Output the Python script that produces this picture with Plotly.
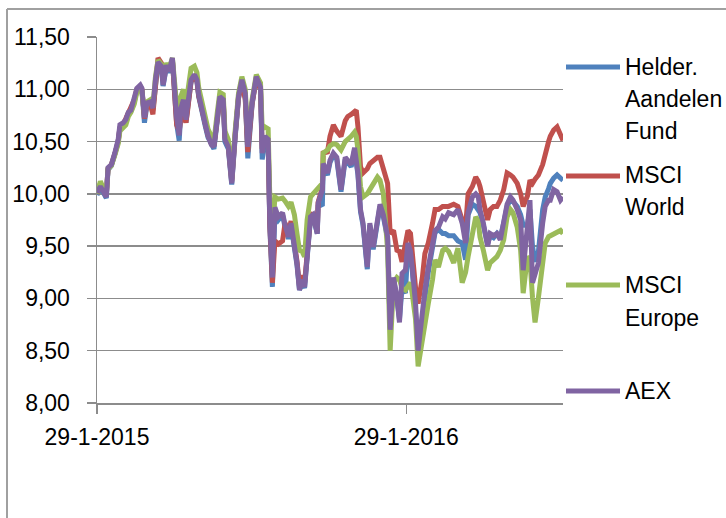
import pandas as pd
import plotly.graph_objects as go

# ---------------- data ----------------
start_date = "2015-01-29"
# days since start for every sampled point
day_offset = [
    0, 4, 7, 11, 13, 17, 21, 25, 27, 31,
    34, 37, 40, 44, 47, 51, 53, 56, 59, 63,
    66, 69, 72, 76, 78, 82, 85, 89, 92, 94,
    97, 99, 102, 105, 107, 111, 115, 118, 120, 124,
    128, 131, 135, 138, 142, 145, 149, 151, 155, 159,
    163, 167, 171, 175, 178, 183, 188, 193, 195, 198,
    202, 204, 207, 210, 214, 219, 222, 226, 229, 233,
    236, 239, 242, 245, 248, 252, 255, 260, 261, 266,
    267, 272, 275, 279, 283, 288, 293, 296, 300, 304,
    306, 308, 311, 314, 319, 322, 326, 331, 334, 338,
    343, 346, 350, 354, 357, 360, 364, 367, 370, 372,
    376, 379, 384, 387, 391, 396, 399, 403, 408, 411,
    415, 421, 426, 431, 435, 438, 443, 447, 450, 452,
    456, 461, 464, 468, 472, 476, 480, 484, 488, 491,
    496, 500, 503, 508, 511, 514, 517, 521, 526, 529,
    533, 535, 539, 543, 547, 550,
]

helder_fund = [
    9.99, 10.06, 10.02, 9.96, 10.23, 10.27, 10.38, 10.50, 10.63, 10.66,
    10.70, 10.77, 10.79, 10.88, 10.99, 11.02, 10.99, 10.68, 10.85, 10.86,
    10.80, 11.08, 11.25, 11.21, 11.03, 11.22, 11.16, 11.28, 10.86, 10.67,
    10.51, 10.78, 10.88, 10.68, 10.82, 11.07, 11.12, 11.07, 10.93, 10.76,
    10.64, 10.54, 10.46, 10.43, 10.70, 10.90, 10.88, 10.50, 10.43, 10.09,
    10.53, 10.91, 11.08, 10.92, 10.34, 10.85, 11.11, 11.00, 10.33, 10.50,
    10.48, 9.68, 9.11, 9.82, 9.75, 9.80, 9.68, 9.57, 9.70, 9.51,
    9.32, 9.08, 9.16, 9.10, 9.44, 9.76, 9.78, 9.62, 9.88, 9.90,
    10.25, 10.18, 10.30, 10.37, 10.33, 10.02, 10.33, 10.30, 10.26, 10.42,
    10.33, 10.18, 9.83, 9.70, 9.28, 9.70, 9.47, 9.73, 9.88, 9.78,
    9.57, 8.72, 9.18, 9.00, 8.80, 9.10, 9.05, 9.50, 9.42, 9.28,
    8.90, 8.55, 8.62, 9.00, 9.25, 9.45, 9.63, 9.66, 9.62, 9.62,
    9.60, 9.60, 9.55, 9.53, 9.37, 9.80, 9.90, 9.88, 9.85, 9.82,
    9.70, 9.52, 9.60, 9.58, 9.62, 9.58, 9.72, 9.88, 9.95, 9.93,
    9.88, 9.80, 9.70, 9.70, 9.85, 9.50, 9.35, 9.45, 9.85, 9.97,
    10.05, 10.10, 10.15, 10.18, 10.15, 10.13,
]

msci_world = [
    10.00, 10.10, 10.05, 9.99, 10.24, 10.28, 10.38, 10.50, 10.63, 10.67,
    10.72, 10.78, 10.82, 10.90, 11.00, 11.03, 11.00, 10.72, 10.86, 10.85,
    10.76, 11.10, 11.30, 11.25, 11.08, 11.24, 11.18, 11.28, 10.85, 10.66,
    10.60, 10.72, 10.80, 10.68, 10.80, 11.08, 11.12, 11.08, 10.94, 10.78,
    10.66, 10.56, 10.48, 10.46, 10.72, 10.92, 10.90, 10.54, 10.46, 10.12,
    10.56, 10.92, 11.07, 10.90, 10.40, 10.86, 11.10, 11.00, 10.43, 10.55,
    10.50, 9.70, 9.15, 9.55, 9.52, 9.55, 9.72, 9.62, 9.74, 9.55,
    9.36, 9.12, 9.22, 9.15, 9.48, 9.78, 9.82, 9.64, 9.92, 10.06,
    10.39, 10.40, 10.55, 10.66, 10.60, 10.55, 10.70, 10.74, 10.76, 10.78,
    10.80, 10.64, 10.26, 10.20, 10.24, 10.29, 10.32, 10.35, 10.35, 10.23,
    10.10, 9.62, 9.65, 9.46, 9.45, 9.35, 9.55, 9.65, 9.62, 9.40,
    9.10, 8.95, 9.20, 9.43, 9.53, 9.72, 9.85, 9.85, 9.88, 9.88,
    9.88, 9.90, 9.88, 9.75, 9.68, 10.00, 10.07, 10.16, 10.12, 10.07,
    9.90, 9.75, 9.85, 9.88, 9.88, 9.94, 10.04, 10.20, 10.18, 10.16,
    10.10, 10.00, 9.88, 9.98, 10.13, 10.10, 10.14, 10.18, 10.28, 10.40,
    10.50, 10.55, 10.61, 10.64, 10.58, 10.51,
]

msci_europe = [
    10.00, 10.12, 10.06, 10.00, 10.24, 10.27, 10.37, 10.48, 10.60, 10.63,
    10.66, 10.74, 10.78, 10.86, 10.97, 11.00, 10.98, 10.76, 10.88, 10.90,
    10.84, 11.12, 11.28, 11.24, 11.10, 11.25, 11.20, 11.30, 10.98, 10.85,
    10.72, 10.93, 11.00, 10.82, 10.97, 11.20, 11.22, 11.16, 11.02, 10.86,
    10.72, 10.62, 10.55, 10.50, 10.78, 10.97, 10.95, 10.60, 10.52, 10.15,
    10.60, 10.96, 11.12, 11.00, 10.52, 10.90, 11.14, 11.06, 10.62, 10.64,
    10.62, 9.95, 9.60, 9.97, 9.95, 9.96, 9.93, 9.88, 9.92, 9.80,
    9.62, 9.46, 9.45, 9.40, 9.75, 9.97, 10.00, 10.04, 10.06, 10.10,
    10.39, 10.42, 10.46, 10.48, 10.47, 10.42, 10.50, 10.52, 10.55, 10.59,
    10.55, 10.42, 10.07, 9.97, 10.00, 10.04, 10.10, 10.16, 10.13, 10.00,
    9.46, 8.50, 9.15, 9.20, 9.18, 9.10, 9.08, 9.12, 9.15, 9.05,
    8.80, 8.35, 8.63, 8.80, 8.95, 9.18, 9.37, 9.30, 9.46, 9.48,
    9.45, 9.34, 9.48, 9.15, 9.25, 9.40, 9.62, 9.78, 9.74, 9.59,
    9.46, 9.27, 9.34, 9.37, 9.40, 9.46, 9.56, 9.78, 9.85, 9.82,
    9.68, 9.46, 9.05, 9.40, 9.37, 9.01, 8.77, 9.01, 9.40, 9.53,
    9.59, 9.60, 9.62, 9.63, 9.65, 9.62,
]

aex = [
    10.01, 10.07, 10.03, 9.97, 10.25, 10.28, 10.39, 10.52, 10.66, 10.68,
    10.71, 10.78, 10.80, 10.90, 11.01, 11.04, 11.01, 10.73, 10.87, 10.88,
    10.82, 11.09, 11.26, 11.22, 11.04, 11.23, 11.17, 11.30, 10.90, 10.73,
    10.56, 10.82, 10.90, 10.71, 10.85, 11.09, 11.14, 11.09, 10.95, 10.78,
    10.66, 10.56, 10.47, 10.45, 10.71, 10.93, 10.90, 10.52, 10.45, 10.10,
    10.55, 10.93, 11.09, 10.96, 10.45, 10.87, 11.12, 11.02, 10.39, 10.55,
    10.52, 9.72, 9.20, 9.87, 9.78, 9.82, 9.70, 9.59, 9.72, 9.53,
    9.34, 9.08, 9.18, 9.11, 9.46, 9.78, 9.80, 9.62, 9.91, 10.04,
    10.29, 10.20, 10.32, 10.39, 10.35, 10.04, 10.35, 10.32, 10.28, 10.44,
    10.35, 10.20, 9.85, 9.72, 9.30, 9.72, 9.49, 9.75, 9.90, 9.80,
    9.59, 8.70, 9.20, 9.01, 8.77, 9.24, 9.27, 9.53, 9.45, 9.30,
    8.95, 8.50, 8.89, 9.08, 9.30, 9.49, 9.65, 9.68, 9.78, 9.76,
    9.82, 9.80, 9.85, 9.72, 9.53, 9.82, 9.97, 10.00, 9.97, 9.85,
    9.72, 9.50, 9.62, 9.60, 9.62, 9.56, 9.72, 9.90, 9.97, 9.94,
    9.85, 9.75, 9.27, 9.75, 9.94, 9.15, 9.22, 9.34, 9.72, 9.88,
    9.94, 9.94, 10.04, 10.02, 9.94, 9.97,
]

series_names = ["Helder. Aandelen Fund", "MSCI World", "MSCI Europe", "AEX"]
legend_lines = [["Helder.", "Aandelen", "Fund"], ["MSCI", "World"], ["MSCI", "Europe"], ["AEX"]]
series_colors = ["#4F81BD", "#C0504D", "#9BBB59", "#8064A2"]
tick_dates = ["2015-01-29", "2016-01-29"]
tick_labels = ["29-1-2015", "29-1-2016"]
y_ticks = [8.0, 8.5, 9.0, 9.5, 10.0, 10.5, 11.0, 11.5]

# ---------------- figure ----------------
dates = pd.Timestamp(start_date) + pd.to_timedelta(day_offset, unit="D")

FONT = "Liberation Sans, Arial, sans-serif"
GRID = "#8c8c8c"
W, H = 726, 518
L, R, T, B = 97, 563, 37, 403  # plot area in pixels

fig = go.Figure()
for name, vals, col in zip(series_names, [helder_fund, msci_world, msci_europe, aex], series_colors):
    fig.add_trace(go.Scatter(x=dates, y=vals, name=name, mode="lines",
                             line=dict(color=col, width=5), showlegend=False,
                             hoverinfo="skip"))

def px(xp):
    return (xp - L) / (R - L)

def py(yp):
    return (B - yp) / (B - T)

BORDER = "#a0a0a0"
shapes = [
    # outer chart border (top and left edges; the others fall outside the window)
    dict(type="line", xref="paper", yref="paper", x0=px(7), x1=px(740), y0=py(9), y1=py(9),
         line=dict(color=BORDER, width=2), layer="above"),
    dict(type="line", xref="paper", yref="paper", x0=px(7), x1=px(7), y0=py(9), y1=py(540),
         line=dict(color=BORDER, width=2), layer="above"),
]
annotations = []
legend_marker_y = [67, 176, 285, 391]
legend_text_y = [[67, 99, 131], [175, 207], [285, 318], [391]]
for col, my, lines, tys in zip(series_colors, legend_marker_y, legend_lines, legend_text_y):
    shapes.append(dict(type="line", xref="paper", yref="paper", x0=px(566), x1=px(620),
                       y0=py(my), y1=py(my), line=dict(color=col, width=5)))
    for txt, ty in zip(lines, tys):
        annotations.append(dict(xref="paper", yref="paper", x=px(623), y=py(ty), text=txt,
                                showarrow=False, xanchor="left", yanchor="middle",
                                font=dict(family=FONT, size=23, color="black")))

fig.update_layout(
    width=W, height=H,
    margin=dict(l=L, r=W - R, t=T, b=H - B, autoexpand=False),
    paper_bgcolor="white", plot_bgcolor="white",
    separators=",.",
    font=dict(family=FONT, size=23, color="black"),
    shapes=shapes, annotations=annotations,
    showlegend=False,
)
fig.update_xaxes(
    type="date", range=[dates[0], dates[-1]],
    tickmode="array", tickvals=tick_dates, ticktext=tick_labels,
    ticks="outside", ticklen=9, tickwidth=1.5, tickcolor=GRID,
    showline=True, linecolor=GRID, linewidth=1.5,
    showgrid=False, zeroline=False, ticklabelstandoff=4,
    tickfont=dict(family=FONT, size=23, color="black"),
)
fig.update_yaxes(
    range=[8, 11.5], tickmode="array", tickvals=y_ticks, tickformat=".2f",
    ticks="outside", ticklen=9, tickwidth=1.5, tickcolor=GRID,
    showline=True, linecolor=GRID, linewidth=1.5,
    showgrid=True, gridcolor=GRID, gridwidth=1.5, zeroline=False,
    ticklabelstandoff=12,
    tickfont=dict(family=FONT, size=23, color="black"),
)

fig.write_html("out.html", config={"displayModeBar": False, "staticPlot": True},
               post_script="document.body.style.margin='0';document.body.style.overflow='hidden';")
